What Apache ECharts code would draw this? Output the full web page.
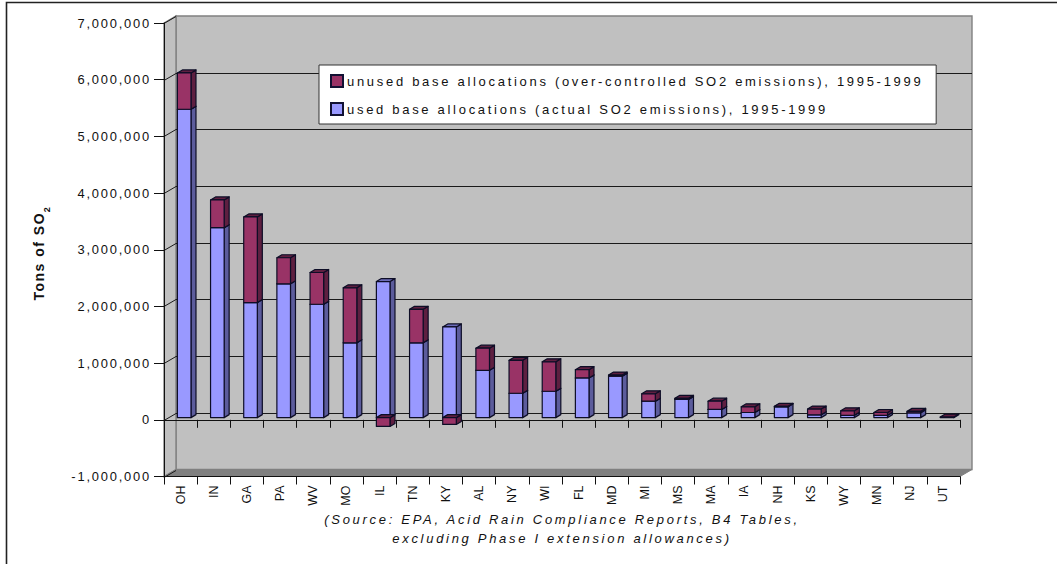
<!DOCTYPE html>
<html>
<head>
<meta charset="utf-8">
<style>
html,body{margin:0;padding:0;background:#fff;}
#chart{width:1057px;height:564px;}
#chart text[style*="13px"]{letter-spacing:2.7px;}
#chart text[style*="12.9px"]{letter-spacing:1.8px;}
#chart text[style*="12.5px"]{letter-spacing:0;}
#chart text[style*="bold"]{letter-spacing:1.5px;}
</style>
<script src="https://cdn.jsdelivr.net/npm/echarts@6/dist/echarts.min.js"></script>
</head>
<body>
<div id="chart"></div>
<script>
const categories = ['OH','IN','GA','PA','WV','MO','IL','TN','KY','AL','NY','WI','FL','MD','MI','MS','MA','IA','NH','KS','WY','MN','NJ','UT'];
const usedAllocations = [5440000,3350000,2030000,2360000,2000000,1320000,2400000,1320000,1600000,835000,430000,465000,700000,730000,290000,320000,145000,90000,190000,50000,40000,40000,85000,0];
const unusedAllocations = [640000,490000,1510000,460000,560000,970000,-155000,590000,-120000,390000,580000,520000,145000,20000,130000,20000,145000,100000,10000,100000,80000,50000,25000,10000];
const yTicks = [-1000000,0,1000000,2000000,3000000,4000000,5000000,6000000,7000000];
const usedName = 'used base allocations (actual SO2 emissions), 1995-1999';
const unusedName = 'unused base allocations (over-controlled SO2 emissions), 1995-1999';
const sourceNote = '(Source: EPA, Acid Rain Compliance Reports, B4 Tables,\nexcluding Phase I extension allowances)';

const wallDX = 12, wallDY = -7;   // depth of the 3D room
const barOX = 3.6, barOY = -2.2;  // bars stand mid-depth
const barDX = 5, barDY = -3;      // depth of a bar
const snap = v => Math.round(v) + 0.5;

function renderWalls(params, api) {
  const yMin = yTicks[0], yMax = yTicks[yTicks.length - 1];
  const left = params.coordSys.x, right = left + params.coordSys.width;
  const top = api.coord([0, yMax])[1], bottom = api.coord([0, yMin])[1];
  const children = [];
  const wallStyle = {fill:'#c0c0c0', stroke:'#808080', lineWidth:1.4};
  children.push({type:'polygon', shape:{points:[[left+wallDX,top+wallDY],[right+wallDX,top+wallDY],[right+wallDX,bottom+wallDY],[left+wallDX,bottom+wallDY]]}, style:wallStyle});
  children.push({type:'polygon', shape:{points:[[left,top],[left+wallDX,top+wallDY],[left+wallDX,bottom+wallDY],[left,bottom]]}, style:wallStyle});
  children.push({type:'polygon', shape:{points:[[left,bottom],[left+wallDX,bottom+wallDY],[right+wallDX,bottom+wallDY],[right,bottom]]}, style:{fill:'#808080', stroke:'#808080', lineWidth:1}});
  yTicks.forEach(t => {
    if (t === yMin) return;
    const y = snap(api.coord([0, t])[1]);
    const lineStyle = {stroke:'#1a1a1a', lineWidth:1, fill:null};
    children.push({type:'polyline', shape:{points:[[left,y],[left+wallDX,y+wallDY]]}, style:lineStyle});
    if (t !== yMax) children.push({type:'line', shape:{x1:left+wallDX,y1:y+wallDY,x2:right+wallDX,y2:y+wallDY}, style:lineStyle});
  });
  const y0 = snap(bottom);
  children.push({type:'line', shape:{x1:left,y1:y0,x2:left+wallDX,y2:y0+wallDY}, style:{stroke:'#1a1a1a', lineWidth:1}});
  return {type:'group', children};
}

function cuboid(api, idx, from, to, front, top, side) {
  const x = api.coord([idx, 0])[0] + barOX;
  const w = api.size([1, 0])[0] * 0.41;
  const yA = api.coord([idx, from])[1] + barOY;
  const yB = api.coord([idx, to])[1] + barOY;
  const yTop = Math.min(yA, yB), yBot = Math.max(yA, yB);
  const l = x - w / 2, r = x + w / 2;
  const stroke = {stroke:'#0d0d26', lineWidth:1.2, lineJoin:'round'};
  return {type:'group', children:[
    {type:'polygon', shape:{points:[[r,yTop],[r+barDX,yTop+barDY],[r+barDX,yBot+barDY],[r,yBot]]}, style:{fill:side,...stroke}},
    {type:'polygon', shape:{points:[[l,yTop],[l+barDX,yTop+barDY],[r+barDX,yTop+barDY],[r,yTop]]}, style:{fill:top,...stroke}},
    {type:'rect', shape:{x:l,y:yTop,width:w,height:yBot-yTop}, style:{fill:front,...stroke}}
  ]};
}

function renderUsed(params, api) {
  const i = api.value(0), v = api.value(1);
  if (v === 0) return {type:'group', children:[]};
  return cuboid(api, i, 0, v, '#9999ff', '#6c6cb8', '#5c5c9c');
}
function renderUnused(params, api) {
  const i = api.value(0), v = api.value(1), base = usedAllocations[i];
  return v < 0 ? cuboid(api, i, 0, v, '#993366', '#5e1f40', '#5e1f40')
               : cuboid(api, i, base, base + v, '#993366', '#5e1f40', '#5e1f40');
}

const chart = echarts.init(document.getElementById('chart'), null, {renderer:'svg'});
const fontFamily = 'Liberation Sans, Arial, sans-serif';
const xBase = {type:'category', data:categories, boundaryGap:true,
  axisLine:{lineStyle:{color:'#111', width:1}},
  axisTick:{show:true, interval:0, length:8, alignWithLabel:false, lineStyle:{color:'#111', width:1}}};
chart.setOption({
  animation:false,
  backgroundColor:'#fff',
  grid:{left:164, top:23, width:796, height:453.5, containLabel:false},
  graphic:[{type:'polyline', z:100, shape:{points:[[6.5,564],[6.5,2.5],[1057,2.5]]}, style:{stroke:'#222', lineWidth:1.6, fill:null}}],
  legend:{
    data:[{name:unusedName},{name:usedName}],
    orient:'vertical', left:319, top:65, itemGap:14, itemWidth:12, itemHeight:12,
    padding:[9,191,8,11], align:'left',
    backgroundColor:'#fff', borderColor:'#333', borderWidth:1,
    icon:'rect',
    textStyle:{fontFamily, fontSize:13, color:'#111', padding:[0,0,0,-1]},
    selectedMode:false, z:50
  },
  xAxis:[
    {...xBase, position:'bottom', z:3,
      axisLine:{...xBase.axisLine, onZero:false},
      axisLabel:{fontFamily, color:'#111', interval:0, rotate:90, margin:9, fontSize:12.5, padding:[0,0,6,0]},
      name:sourceNote, nameLocation:'middle', nameGap:33, nameMoveOverlap:false,
      nameTextStyle:{fontFamily, color:'#111', fontStyle:'italic', fontSize:13, lineHeight:19}},
    {...xBase, position:'bottom', z:3,
      axisLine:{...xBase.axisLine, onZero:true},
      axisLabel:{show:false}}
  ],
  yAxis:{
    type:'value', min:yTicks[0], max:yTicks[yTicks.length-1], interval:1000000, z:3,
    axisLine:{show:true, onZero:false, lineStyle:{color:'#111', width:1}},
    axisTick:{show:true, length:10, lineStyle:{color:'#111', width:1}},
    axisLabel:{fontFamily, color:'#111', fontSize:12.9, margin:13, formatter:v => v.toLocaleString('en-US')},
    splitLine:{show:false},
    name:'{b|Tons of SO}{s|2}', nameLocation:'middle', nameGap:118, nameRotate:90, nameMoveOverlap:false,
    nameTextStyle:{rich:{
      b:{fontFamily, fontWeight:'bold', fontSize:14, color:'#111'},
      s:{fontFamily, fontWeight:'bold', fontSize:9, color:'#111', verticalAlign:'bottom', padding:[0,0,-5,8]}
    }}
  },
  series:[
    {name:'room', type:'custom', z:1, silent:true, legendHoverLink:false, renderItem:renderWalls, data:[[0]], encode:{x:0}, clip:false},
    {name:usedName, type:'custom', z:5, renderItem:renderUsed, itemStyle:{color:'#9999ff', borderColor:'#111133', borderWidth:1},
      data:usedAllocations.map((v,i)=>[i,v]), encode:{x:0,y:1}, clip:false},
    {name:unusedName, type:'custom', z:6, renderItem:renderUnused, itemStyle:{color:'#993366', borderColor:'#111133', borderWidth:1},
      data:unusedAllocations.map((v,i)=>[i,v]), encode:{x:0,y:1}, clip:false}
  ]
});
</script>
</body>
</html>
